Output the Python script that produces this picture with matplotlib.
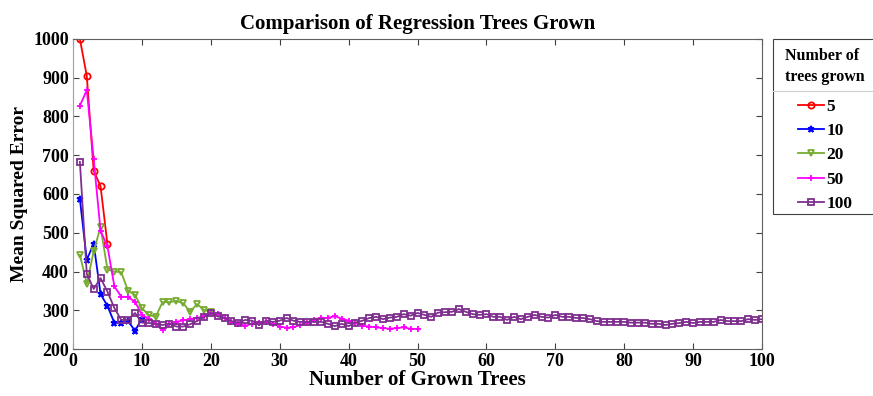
import matplotlib
matplotlib.use('Agg')
import matplotlib.pyplot as plt
from matplotlib.lines import Line2D
from matplotlib.patches import Rectangle
import numpy as np

# values
mse_5 = [1000, 905, 660, 620, 470]
mse_10 = [587, 430, 472, 342, 311, 268, 268, 272, 247, 278]
mse_20 = [443, 368, 452, 515, 405, 400, 398, 350, 340, 305,
          288, 283, 321, 321, 324, 318, 296, 316, 301, 296]
mse_50 = [828, 868, 690, 505, 465, 362, 335, 334, 322, 288,
          278, 265, 250, 265, 270, 274, 277, 280, 285, 293,
          290, 280, 270, 265, 260, 265, 268, 270, 265, 258,
          255, 256, 262, 268, 275, 281, 280, 285, 278, 273,
          267, 260, 258, 256, 254, 252, 254, 256, 252, 252]
mse_100 = [683, 394, 355, 383, 348, 306, 275, 275, 293, 268,
           267, 265, 262, 265, 258, 258, 264, 272, 282, 293,
           284, 280, 272, 268, 275, 273, 262, 273, 270, 273,
           280, 273, 270, 270, 270, 270, 265, 259, 265, 259,
           268, 273, 280, 283, 277, 281, 283, 290, 286, 293,
           288, 283, 294, 295, 296, 303, 296, 290, 288, 290,
           283, 283, 275, 283, 277, 283, 288, 283, 281, 288,
           283, 283, 280, 280, 277, 272, 270, 270, 270, 270,
           268, 268, 268, 265, 265, 262, 265, 267, 270, 267,
           270, 270, 270, 275, 272, 272, 272, 277, 275, 277]

series = [
    ('5', mse_5, '#ff0000', 'o'),
    ('10', mse_10, '#0000ff', '*'),
    ('20', mse_20, '#77ac30', 'v'),
    ('50', mse_50, '#ff00ff', '+'),
    ('100', mse_100, '#7e2f8e', 's'),
]

plt.rcParams['font.family'] = ['Liberation Serif', 'DejaVu Serif']
plt.rcParams['font.weight'] = 'bold'

W, H = 873, 396
fig = plt.figure(figsize=(W / 100, H / 100), dpi=100)
ax = fig.add_axes([73 / W, 47 / H, 689 / W, 310 / H])

for name, vals, col, mk in series:
    x = np.arange(1, len(vals) + 1)
    ax.plot(x, vals, color=col, marker=mk, markersize=4.5, markerfacecolor='none',
            markeredgewidth=1.3, linewidth=1.3, label=name)

ax.set_xlim(0, 100)
ax.set_ylim(200, 1000)
ax.set_xticks(np.arange(0, 101, 10))
ax.set_yticks(np.arange(200, 1001, 100))
ax.tick_params(direction='in', top=True, right=True, length=4, labelsize=13,
               color='#404040', pad=3)
for lab in ax.get_xticklabels() + ax.get_yticklabels():
    lab.set_fontweight('bold')
for sp in ax.spines.values():
    sp.set_color('#606060')
    sp.set_linewidth(0.8)
ax.spines['left'].set_color('#a0a0a0')

ax.set_title('Comparison of Regression Trees Grown', fontsize=15, fontweight='bold', pad=7)
ax.set_xlabel('Number of Grown Trees', fontsize=15, fontweight='bold', labelpad=0)
ax.set_ylabel('Mean Squared Error', fontsize=14, fontweight='bold', labelpad=4)

# legend without its own frame; box drawn by hand so the paddings match
leg = ax.legend(title='Number of\ntrees grown', loc='upper left',
                bbox_to_anchor=(782 / W, 1 - 45 / H),
                bbox_transform=fig.transFigure, alignment='center', borderaxespad=0,
                frameon=False, fontsize=12.5, title_fontsize=11.5,
                handlelength=1.5, borderpad=0.2, labelspacing=0.47, handletextpad=0.1)
leg.get_title().set_fontweight('bold')
leg.get_title().set_linespacing(1.35)
for t in leg.get_texts():
    t.set_fontweight('bold')
leg._legend_box.sep = 10

fig.canvas.draw()
r = fig.canvas.get_renderer()
lb = leg.get_window_extent(r)
tb = leg.get_title().get_window_extent(r)
top = 1 - 39 / H
bottom = (lb.y0 + 1) / H
fig.add_artist(Rectangle((773 / W, bottom), 1.0, top - bottom, transform=fig.transFigure,
                         facecolor='none', edgecolor='#404040', linewidth=0.8))
ysep = (tb.y0 - 6) / H
fig.add_artist(Line2D([773 / W, 1.0], [ysep, ysep], color='#d0d0d0', linewidth=0.8))

fig.savefig('out.png', dpi=100)
